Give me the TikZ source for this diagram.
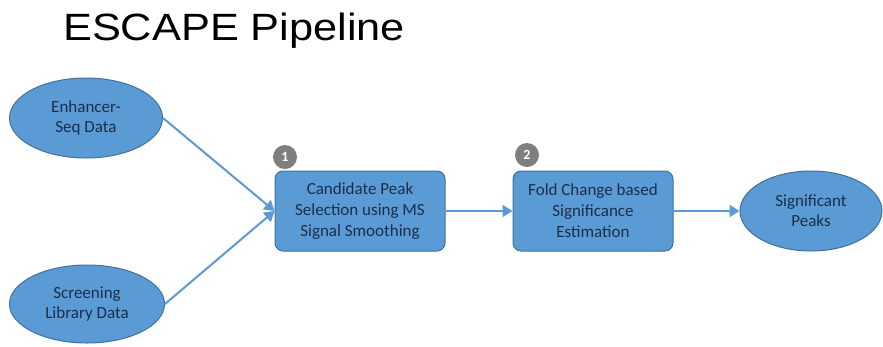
\documentclass[tikz,border=0pt]{standalone}
\usepackage{fontspec}
\usepackage{graphicx}
\setmainfont{Carlito}
\newfontfamily\titlefont{Liberation Sans}
\usetikzlibrary{shapes.geometric,arrows.meta}
\definecolor{fillblue}{HTML}{5B9BD5}
\definecolor{edgeblue}{HTML}{41719C}
\definecolor{txtblue}{HTML}{1B2E4A}
\definecolor{badgegray}{HTML}{7F7F7F}
\tikzset{
  oval/.style={ellipse, draw=edgeblue, line width=1pt, fill=fillblue, text=txtblue, align=center, font=\fontsize{17}{20}\selectfont, inner sep=0pt},
  procbox/.style={rectangle, rounded corners=8pt, draw=edgeblue, line width=1pt, fill=fillblue, text=txtblue, align=center, font=\fontsize{17}{21}\selectfont, minimum width=170pt, minimum height=80pt, inner sep=0pt},
  badge/.style={circle, fill=badgegray, text=white, minimum size=24pt, inner sep=0pt, font=\fontsize{14}{14}\selectfont\bfseries},
  flow/.style={draw=fillblue, line width=2pt, -{Triangle[length=10pt,width=12pt]}}
}
\begin{document}
\begin{tikzpicture}[x=1pt,y=-1pt]
\useasboundingbox (0,0) rectangle (883,346);
\fill[white] (0,0) rectangle (883,346);
\node[anchor=base west, inner sep=0pt, font=\titlefont\fontsize{38}{38}\selectfont] (title) at (63,40) {\scalebox{1.14}[1]{ESCAPE Pipeline}};
\node[oval, minimum width=153pt, minimum height=80pt] (enh) at (86,118) {Enhancer-\\Seq Data};
\node[oval, minimum width=155pt, minimum height=78pt] (scr) at (87,304) {Screening\\Library Data};
\node[procbox] (cand) at (360,211) {Candidate Peak\\Selection using MS\\Signal Smoothing};
\node[procbox, minimum width=160pt, minimum height=80pt] (fold) at (593,211) {Fold Change based\\Significance\\Estimation};
\node[oval, minimum width=142pt, minimum height=80pt] (sig) at (811,211) {Significant\\Peaks};
\node[badge] (b1) at (285,157) {1};
\node[badge] (b2) at (527,155) {2};
\draw[flow] (enh.east) -- (cand.west);
\draw[flow] (scr.east) -- (cand.west);
\draw[flow] (cand.east) -- (fold.west);
\draw[flow] (fold.east) -- (sig.west);
\end{tikzpicture}
\end{document}
